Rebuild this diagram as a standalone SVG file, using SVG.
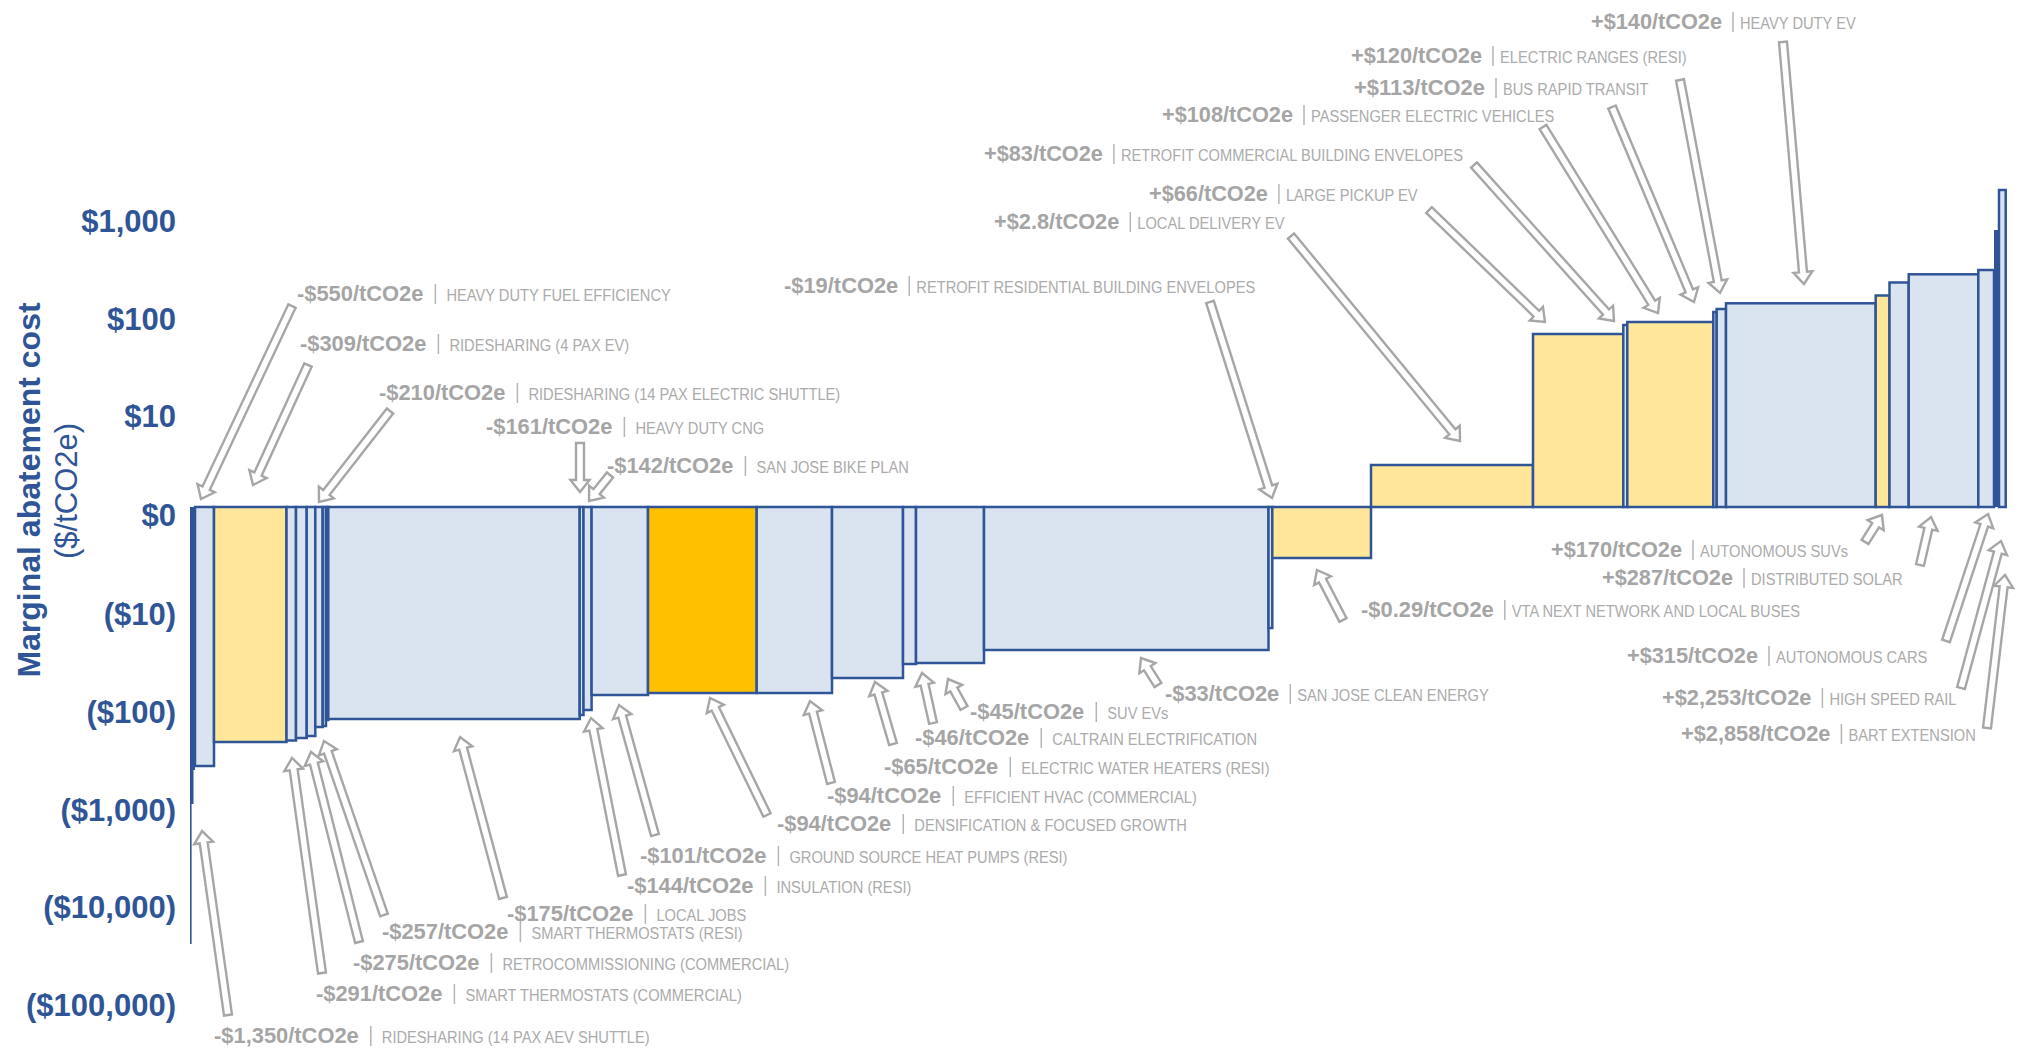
<svg xmlns="http://www.w3.org/2000/svg" width="2019" height="1048" viewBox="0 0 2019 1048">
  <style>
    .lb { fill: #DAE3F0; stroke: #2F5597; stroke-width: 2.5; }
    .yl { fill: #FFE699; stroke: #2F5597; stroke-width: 2.5; }
    .or { fill: #FFC000; stroke: #2F5597; stroke-width: 2.5; }
    .dk { fill: #2F5597; }
    .ar { fill: #FFFFFF; stroke: #A6A6A6; stroke-width: 2.4; }
    .ax { font-family: "Liberation Sans", Arial, sans-serif; font-weight: bold; font-size: 31px; fill: #2F5597; text-anchor: end; }
    .ttl { font-family: "Liberation Sans", Arial, sans-serif; fill: #2F5597; text-anchor: middle; }
    .v { font-family: "Liberation Sans", Arial, sans-serif; font-weight: bold; font-size: 22px; fill: #A5A5A5; }
    .c { font-family: "Liberation Sans", Arial, sans-serif; font-size: 16.3px; fill: #ABABAB; }
    .sp { stroke: #B5B5B5; stroke-width: 1.5; }
  </style>

  <rect width="2019" height="1048" fill="#FFFFFF"/>

  <!-- Y axis -->
  <g id="y-axis">
    <text class="ttl" font-weight="bold" font-size="32" transform="translate(40 490) rotate(-90)">Marginal abatement cost</text>
    <text class="ttl" font-size="31" transform="translate(77 491) rotate(-90)">($/tCO2e)</text>
    <text class="ax" x="176" y="232">$1,000</text>
    <text class="ax" x="176" y="330">$100</text>
    <text class="ax" x="176" y="427">$10</text>
    <text class="ax" x="176" y="526">$0</text>
    <text class="ax" x="176" y="625">($10)</text>
    <text class="ax" x="176" y="723">($100)</text>
    <text class="ax" x="176" y="821">($1,000)</text>
    <text class="ax" x="176" y="918">($10,000)</text>
    <text class="ax" x="176" y="1016">($100,000)</text>
  </g>

  <!-- Cost bars below zero (width = abatement, height = cost) -->
  <g id="bar-n01"><rect class="dk" x="190" y="507" width="5" height="263"/><rect class="dk" x="190" y="507" width="3.5" height="297"/><rect class="dk" x="190" y="507" width="1.6" height="437"/></g>
  <g id="bar-n02"><rect class="lb" x="195" y="507" width="19" height="259"/></g>
  <g id="bar-n03"><rect class="yl" x="214" y="507" width="72.5" height="235"/></g>
  <g id="bar-n04"><rect class="lb" x="286.5" y="507" width="9.5" height="233.5"/></g>
  <g id="bar-n05"><rect class="lb" x="296" y="507" width="10.7" height="231"/></g>
  <g id="bar-n06"><rect class="lb" x="306.7" y="507" width="8.6" height="229"/></g>
  <g id="bar-n07"><rect class="lb" x="315.3" y="507" width="7.4" height="220"/></g>
  <g id="bar-n08"><rect class="lb" x="322.7" y="507" width="3.3" height="219"/></g>
  <g id="bar-n09"><rect class="lb" x="326" y="507" width="2.3" height="213"/></g>
  <g id="bar-n10"><rect class="lb" x="328.3" y="507" width="251.4" height="212"/></g>
  <g id="bar-n11"><rect class="lb" x="579.7" y="507" width="3.8" height="208"/></g>
  <g id="bar-n12"><rect class="lb" x="583.5" y="507" width="8.1" height="203"/></g>
  <g id="bar-n13"><rect class="lb" x="591.6" y="507" width="56.4" height="188"/></g>
  <g id="bar-n14"><rect class="or" x="648" y="507" width="108.7" height="186"/></g>
  <g id="bar-n15"><rect class="lb" x="756.7" y="507" width="75.3" height="186"/></g>
  <g id="bar-n16"><rect class="lb" x="832" y="507" width="71" height="171"/></g>
  <g id="bar-n17"><rect class="lb" x="903" y="507" width="13" height="157"/></g>
  <g id="bar-n18"><rect class="lb" x="916" y="507" width="68" height="156"/></g>
  <g id="bar-n19"><rect class="lb" x="984" y="507" width="284.5" height="143"/></g>
  <g id="bar-n20"><rect class="lb" x="1268.5" y="507" width="3.8" height="121"/></g>
  <g id="bar-n21"><rect class="yl" x="1272.3" y="507" width="98.7" height="51"/></g>

  <!-- Cost bars above zero -->
  <g id="bar-p01"><rect class="yl" x="1371" y="465" width="162" height="42"/></g>
  <g id="bar-p02"><rect class="yl" x="1533" y="334" width="90.3" height="173"/></g>
  <g id="bar-p03"><rect class="lb" x="1623.3" y="325" width="4" height="182"/></g>
  <g id="bar-p04"><rect class="yl" x="1627.3" y="322" width="86" height="185"/></g>
  <g id="bar-p05"><rect class="lb" x="1713.3" y="312" width="3.4" height="195"/></g>
  <g id="bar-p06"><rect class="lb" x="1716.7" y="309" width="9.3" height="198"/></g>
  <g id="bar-p07"><rect class="lb" x="1726" y="303.3" width="149.7" height="203.7"/></g>
  <g id="bar-p08"><rect class="yl" x="1875.7" y="295.5" width="13.8" height="211.5"/></g>
  <g id="bar-p09"><rect class="lb" x="1889.5" y="282.5" width="19.2" height="224.5"/></g>
  <g id="bar-p10"><rect class="lb" x="1908.7" y="274.3" width="69.6" height="232.7"/></g>
  <g id="bar-p11"><rect class="lb" x="1978.3" y="270" width="15.7" height="237"/></g>
  <g id="bar-p12"><rect class="dk" x="1994" y="230" width="4" height="277"/></g>
  <g id="bar-p13"><rect class="lb" x="1999" y="190" width="6.7" height="317" stroke-width="2"/></g>

  <!-- Callout arrows: tail at label, head at bar -->
  <g id="connectors">
    <path class="ar" transform="translate(292 306) rotate(115.24)" d="M0,-4H201.4V-9.5L213.4,0L201.4,9.5V4H0Z"/>
    <path class="ar" transform="translate(308 365) rotate(114.62)" d="M0,-4H120V-9.5L132,0L120,9.5V4H0Z"/>
    <path class="ar" transform="translate(390 411) rotate(127.97)" d="M0,-4H103.4V-9.5L115.4,0L103.4,9.5V4H0Z"/>
    <path class="ar" transform="translate(580 443) rotate(90)" d="M0,-4H37V-9.5L49,0L37,9.5V4H0Z"/>
    <path class="ar" transform="translate(610 475) rotate(128.93)" d="M0,-4H21.4V-9.5L33.4,0L21.4,9.5V4H0Z"/>
    <path class="ar" transform="translate(1210 302) rotate(72.45)" d="M0,-4H193.6V-9.5L205.6,0L193.6,9.5V4H0Z"/>
    <path class="ar" transform="translate(1783 42) rotate(85.04)" d="M0,-4H230.9V-9.5L242.9,0L230.9,9.5V4H0Z"/>
    <path class="ar" transform="translate(1680 80) rotate(79.36)" d="M0,-4H204.7V-9.5L216.7,0L204.7,9.5V4H0Z"/>
    <path class="ar" transform="translate(1612 107) rotate(67.19)" d="M0,-4H199.5V-9.5L211.5,0L199.5,9.5V4H0Z"/>
    <path class="ar" transform="translate(1543 127) rotate(58.27)" d="M0,-4H206.7V-9.5L218.7,0L206.7,9.5V4H0Z"/>
    <path class="ar" transform="translate(1474 165) rotate(48.09)" d="M0,-4H197.6V-9.5L209.6,0L197.6,9.5V4H0Z"/>
    <path class="ar" transform="translate(1429 210) rotate(43.99)" d="M0,-4H149.2V-9.5L161.2,0L149.2,9.5V4H0Z"/>
    <path class="ar" transform="translate(1291 236) rotate(50.5)" d="M0,-4H253.7V-9.5L265.7,0L253.7,9.5V4H0Z"/>
    <path class="ar" transform="translate(1865 542) rotate(-57.8)" d="M0,-4H19.9V-9.5L31.9,0L19.9,9.5V4H0Z"/>
    <path class="ar" transform="translate(1920 565) rotate(-77.09)" d="M0,-4H37.2V-9.5L49.2,0L37.2,9.5V4H0Z"/>
    <path class="ar" transform="translate(1343 620) rotate(-117.47)" d="M0,-4H44.4V-9.5L56.4,0L44.4,9.5V4H0Z"/>
    <path class="ar" transform="translate(1946 641) rotate(-71.7)" d="M0,-4H121.8V-9.5L133.8,0L121.8,9.5V4H0Z"/>
    <path class="ar" transform="translate(1961 688) rotate(-74.78)" d="M0,-4H140.3V-9.5L152.3,0L140.3,9.5V4H0Z"/>
    <path class="ar" transform="translate(1987 728) rotate(-83.29)" d="M0,-4H142.1V-9.5L154.1,0L142.1,9.5V4H0Z"/>
    <path class="ar" transform="translate(1158 685) rotate(-122.2)" d="M0,-4H19.9V-9.5L31.9,0L19.9,9.5V4H0Z"/>
    <path class="ar" transform="translate(964 708) rotate(-118.89)" d="M0,-4H21.1V-9.5L33.1,0L21.1,9.5V4H0Z"/>
    <path class="ar" transform="translate(933 723) rotate(-102.41)" d="M0,-4H39.2V-9.5L51.2,0L39.2,9.5V4H0Z"/>
    <path class="ar" transform="translate(893 744) rotate(-106.19)" d="M0,-4H52.6V-9.5L64.6,0L52.6,9.5V4H0Z"/>
    <path class="ar" transform="translate(831 783) rotate(-104.36)" d="M0,-4H72.6V-9.5L84.6,0L72.6,9.5V4H0Z"/>
    <path class="ar" transform="translate(767 815) rotate(-115.97)" d="M0,-4H118.1V-9.5L130.1,0L118.1,9.5V4H0Z"/>
    <path class="ar" transform="translate(655 835) rotate(-105.48)" d="M0,-4H122.9V-9.5L134.9,0L122.9,9.5V4H0Z"/>
    <path class="ar" transform="translate(622 875) rotate(-101.17)" d="M0,-4H148V-9.5L160,0L148,9.5V4H0Z"/>
    <path class="ar" transform="translate(503 898) rotate(-104.95)" d="M0,-4H154.6V-9.5L166.6,0L154.6,9.5V4H0Z"/>
    <path class="ar" transform="translate(384 915) rotate(-109.03)" d="M0,-4H172.1V-9.5L184.1,0L172.1,9.5V4H0Z"/>
    <path class="ar" transform="translate(359 942) rotate(-104.18)" d="M0,-4H184V-9.5L196,0L184,9.5V4H0Z"/>
    <path class="ar" transform="translate(322 973) rotate(-97.94)" d="M0,-4H205.1V-9.5L217.1,0L205.1,9.5V4H0Z"/>
    <path class="ar" transform="translate(228 1015) rotate(-98.04)" d="M0,-4H173.8V-9.5L185.8,0L173.8,9.5V4H0Z"/>
  </g>

  <!-- Measure labels: cost | measure name (names set narrow via scaleX) -->
  <g id="labels">
    <g id="lbl-hd-fuel"><text class="v" x="297" y="301" textLength="126.4" lengthAdjust="spacingAndGlyphs">-$550/tCO2e</text><line class="sp" x1="435.4" y1="284" x2="435.4" y2="304"/><text class="c" transform="translate(446.4 301) scale(0.9 1)">HEAVY DUTY FUEL EFFICIENCY</text></g>
    <g id="lbl-rs-4pax"><text class="v" x="300" y="351" textLength="126.4" lengthAdjust="spacingAndGlyphs">-$309/tCO2e</text><line class="sp" x1="438.4" y1="334" x2="438.4" y2="354"/><text class="c" transform="translate(449.4 351) scale(0.9 1)">RIDESHARING (4 PAX EV)</text></g>
    <g id="lbl-rs-14pax-e"><text class="v" x="379" y="400" textLength="126.4" lengthAdjust="spacingAndGlyphs">-$210/tCO2e</text><line class="sp" x1="517.4" y1="383" x2="517.4" y2="403"/><text class="c" transform="translate(528.4 400) scale(0.9 1)">RIDESHARING (14 PAX ELECTRIC SHUTTLE)</text></g>
    <g id="lbl-hd-cng"><text class="v" x="486" y="434" textLength="126.4" lengthAdjust="spacingAndGlyphs">-$161/tCO2e</text><line class="sp" x1="624.4" y1="417" x2="624.4" y2="437"/><text class="c" transform="translate(635.4 434) scale(0.9 1)">HEAVY DUTY CNG</text></g>
    <g id="lbl-bike"><text class="v" x="607" y="473" textLength="126.4" lengthAdjust="spacingAndGlyphs">-$142/tCO2e</text><line class="sp" x1="745.4" y1="456" x2="745.4" y2="476"/><text class="c" transform="translate(756.4 473) scale(0.9 1)">SAN JOSE BIKE PLAN</text></g>
    <g id="lbl-retro-resi"><text class="v" x="784" y="293" textLength="114.3" lengthAdjust="spacingAndGlyphs">-$19/tCO2e</text><line class="sp" x1="909.3" y1="276" x2="909.3" y2="296"/><text class="c" transform="translate(916.3 293) scale(0.9 1)">RETROFIT RESIDENTIAL BUILDING ENVELOPES</text></g>
    <g id="lbl-hd-ev"><text class="v" x="1591" y="29" textLength="131" lengthAdjust="spacingAndGlyphs">+$140/tCO2e</text><line class="sp" x1="1733" y1="12" x2="1733" y2="32"/><text class="c" transform="translate(1740 29) scale(0.9 1)">HEAVY DUTY EV</text></g>
    <g id="lbl-ranges"><text class="v" x="1351" y="63" textLength="131" lengthAdjust="spacingAndGlyphs">+$120/tCO2e</text><line class="sp" x1="1493" y1="46" x2="1493" y2="66"/><text class="c" transform="translate(1500 63) scale(0.9 1)">ELECTRIC RANGES (RESI)</text></g>
    <g id="lbl-brt"><text class="v" x="1354" y="95" textLength="131" lengthAdjust="spacingAndGlyphs">+$113/tCO2e</text><line class="sp" x1="1496" y1="78" x2="1496" y2="98"/><text class="c" transform="translate(1503 95) scale(0.9 1)">BUS RAPID TRANSIT</text></g>
    <g id="lbl-pev"><text class="v" x="1162" y="122" textLength="131" lengthAdjust="spacingAndGlyphs">+$108/tCO2e</text><line class="sp" x1="1304" y1="105" x2="1304" y2="125"/><text class="c" transform="translate(1311 122) scale(0.9 1)">PASSENGER ELECTRIC VEHICLES</text></g>
    <g id="lbl-retro-comm"><text class="v" x="984" y="161" textLength="118.9" lengthAdjust="spacingAndGlyphs">+$83/tCO2e</text><line class="sp" x1="1113.9" y1="144" x2="1113.9" y2="164"/><text class="c" transform="translate(1120.9 161) scale(0.9 1)">RETROFIT COMMERCIAL BUILDING ENVELOPES</text></g>
    <g id="lbl-pickup"><text class="v" x="1149" y="201" textLength="118.9" lengthAdjust="spacingAndGlyphs">+$66/tCO2e</text><line class="sp" x1="1278.9" y1="184" x2="1278.9" y2="204"/><text class="c" transform="translate(1285.9 201) scale(0.9 1)">LARGE PICKUP EV</text></g>
    <g id="lbl-delivery"><text class="v" x="994" y="229" textLength="125.3" lengthAdjust="spacingAndGlyphs">+$2.8/tCO2e</text><line class="sp" x1="1130.3" y1="212" x2="1130.3" y2="232"/><text class="c" transform="translate(1137.3 229) scale(0.9 1)">LOCAL DELIVERY EV</text></g>
    <g id="lbl-av-suv"><text class="v" x="1551" y="557" textLength="131" lengthAdjust="spacingAndGlyphs">+$170/tCO2e</text><line class="sp" x1="1693" y1="540" x2="1693" y2="560"/><text class="c" transform="translate(1700 557) scale(0.9 1)">AUTONOMOUS SUVs</text></g>
    <g id="lbl-solar"><text class="v" x="1602" y="585" textLength="131" lengthAdjust="spacingAndGlyphs">+$287/tCO2e</text><line class="sp" x1="1744" y1="568" x2="1744" y2="588"/><text class="c" transform="translate(1751 585) scale(0.9 1)">DISTRIBUTED SOLAR</text></g>
    <g id="lbl-vta"><text class="v" x="1361" y="617" textLength="132.8" lengthAdjust="spacingAndGlyphs">-$0.29/tCO2e</text><line class="sp" x1="1504.8" y1="600" x2="1504.8" y2="620"/><text class="c" transform="translate(1511.8 617) scale(0.9 1)">VTA NEXT NETWORK AND LOCAL BUSES</text></g>
    <g id="lbl-av-car"><text class="v" x="1627" y="663" textLength="131" lengthAdjust="spacingAndGlyphs">+$315/tCO2e</text><line class="sp" x1="1769" y1="646" x2="1769" y2="666"/><text class="c" transform="translate(1776 663) scale(0.9 1)">AUTONOMOUS CARS</text></g>
    <g id="lbl-hsr"><text class="v" x="1662" y="705" textLength="149.4" lengthAdjust="spacingAndGlyphs">+$2,253/tCO2e</text><line class="sp" x1="1822.4" y1="688" x2="1822.4" y2="708"/><text class="c" transform="translate(1829.4 705) scale(0.9 1)">HIGH SPEED RAIL</text></g>
    <g id="lbl-bart"><text class="v" x="1681" y="741" textLength="149.4" lengthAdjust="spacingAndGlyphs">+$2,858/tCO2e</text><line class="sp" x1="1841.4" y1="724" x2="1841.4" y2="744"/><text class="c" transform="translate(1848.4 741) scale(0.9 1)">BART EXTENSION</text></g>
    <g id="lbl-sjce"><text class="v" x="1165" y="701" textLength="114.3" lengthAdjust="spacingAndGlyphs">-$33/tCO2e</text><line class="sp" x1="1290.3" y1="684" x2="1290.3" y2="704"/><text class="c" transform="translate(1297.3 701) scale(0.9 1)">SAN JOSE CLEAN ENERGY</text></g>
    <g id="lbl-suv-ev"><text class="v" x="970" y="719" textLength="114.3" lengthAdjust="spacingAndGlyphs">-$45/tCO2e</text><line class="sp" x1="1096.3" y1="702" x2="1096.3" y2="722"/><text class="c" transform="translate(1107.3 719) scale(0.9 1)">SUV EVs</text></g>
    <g id="lbl-caltrain"><text class="v" x="915" y="745" textLength="114.3" lengthAdjust="spacingAndGlyphs">-$46/tCO2e</text><line class="sp" x1="1041.3" y1="728" x2="1041.3" y2="748"/><text class="c" transform="translate(1052.3 745) scale(0.9 1)">CALTRAIN ELECTRIFICATION</text></g>
    <g id="lbl-water-heat"><text class="v" x="884" y="774" textLength="114.3" lengthAdjust="spacingAndGlyphs">-$65/tCO2e</text><line class="sp" x1="1010.3" y1="757" x2="1010.3" y2="777"/><text class="c" transform="translate(1021.3 774) scale(0.9 1)">ELECTRIC WATER HEATERS (RESI)</text></g>
    <g id="lbl-hvac"><text class="v" x="827" y="803" textLength="114.3" lengthAdjust="spacingAndGlyphs">-$94/tCO2e</text><line class="sp" x1="953.3" y1="786" x2="953.3" y2="806"/><text class="c" transform="translate(964.3 803) scale(0.9 1)">EFFICIENT HVAC (COMMERCIAL)</text></g>
    <g id="lbl-density"><text class="v" x="777" y="831" textLength="114.3" lengthAdjust="spacingAndGlyphs">-$94/tCO2e</text><line class="sp" x1="903.3" y1="814" x2="903.3" y2="834"/><text class="c" transform="translate(914.3 831) scale(0.9 1)">DENSIFICATION &amp; FOCUSED GROWTH</text></g>
    <g id="lbl-gshp"><text class="v" x="640" y="863" textLength="126.4" lengthAdjust="spacingAndGlyphs">-$101/tCO2e</text><line class="sp" x1="778.4" y1="846" x2="778.4" y2="866"/><text class="c" transform="translate(789.4 863) scale(0.9 1)">GROUND SOURCE HEAT PUMPS (RESI)</text></g>
    <g id="lbl-insulation"><text class="v" x="627" y="893" textLength="126.4" lengthAdjust="spacingAndGlyphs">-$144/tCO2e</text><line class="sp" x1="765.4" y1="876" x2="765.4" y2="896"/><text class="c" transform="translate(776.4 893) scale(0.9 1)">INSULATION (RESI)</text></g>
    <g id="lbl-jobs"><text class="v" x="507" y="921" textLength="126.4" lengthAdjust="spacingAndGlyphs">-$175/tCO2e</text><line class="sp" x1="645.4" y1="904" x2="645.4" y2="924"/><text class="c" transform="translate(656.4 921) scale(0.9 1)">LOCAL JOBS</text></g>
    <g id="lbl-thermo-resi"><text class="v" x="382" y="939" textLength="126.4" lengthAdjust="spacingAndGlyphs">-$257/tCO2e</text><line class="sp" x1="520.4" y1="922" x2="520.4" y2="942"/><text class="c" transform="translate(531.4 939) scale(0.9 1)">SMART THERMOSTATS (RESI)</text></g>
    <g id="lbl-retrocx"><text class="v" x="353" y="970" textLength="126.4" lengthAdjust="spacingAndGlyphs">-$275/tCO2e</text><line class="sp" x1="491.4" y1="953" x2="491.4" y2="973"/><text class="c" transform="translate(502.4 970) scale(0.9 1)">RETROCOMMISSIONING (COMMERCIAL)</text></g>
    <g id="lbl-thermo-comm"><text class="v" x="316" y="1001" textLength="126.4" lengthAdjust="spacingAndGlyphs">-$291/tCO2e</text><line class="sp" x1="454.4" y1="984" x2="454.4" y2="1004"/><text class="c" transform="translate(465.4 1001) scale(0.9 1)">SMART THERMOSTATS (COMMERCIAL)</text></g>
    <g id="lbl-rs-aev"><text class="v" x="214" y="1043" textLength="144.8" lengthAdjust="spacingAndGlyphs">-$1,350/tCO2e</text><line class="sp" x1="370.8" y1="1026" x2="370.8" y2="1046"/><text class="c" transform="translate(381.8 1043) scale(0.9 1)">RIDESHARING (14 PAX AEV SHUTTLE)</text></g>
  </g>
</svg>
